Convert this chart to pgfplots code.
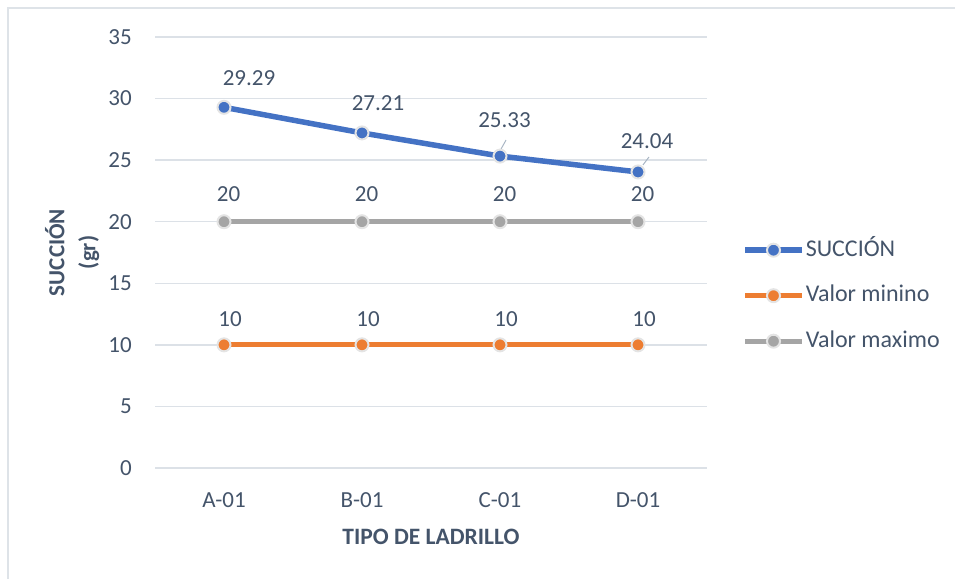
\documentclass[border=0pt]{standalone}
\usepackage{fontspec}
\setmainfont{Carlito}
\usepackage{pgfplots}
\usepackage{pgfplotstable}
\pgfplotsset{compat=1.18}
\definecolor{cblue}{HTML}{4472C4}
\definecolor{corange}{HTML}{ED7D31}
\definecolor{cgray}{HTML}{A5A5A5}
\definecolor{ctext}{HTML}{44546A}
\definecolor{cgrid}{HTML}{DCE1E7}
\definecolor{cborder}{HTML}{DEE3E8}
\definecolor{cmarkb}{HTML}{E4E4E4}
\definecolor{clead}{HTML}{A9B6C4}

\pgfplotstableread{
x y dx dy
0 29.29 25 21
1 27.21 16 21
2 25.33 4.5 27
3 24.04 9 22
}\succion
\pgfplotstableread{
x y dx dy
0 10 6 17
1 10 6 17
2 10 6 17
3 10 6 17
}\vmin
\pgfplotstableread{
x y dx dy
0 20 4.5 19
1 20 4.5 19
2 20 4.5 19
3 20 4.5 19
}\vmax

\begin{document}
\begin{tikzpicture}[x=1pt,y=1pt]
\path[use as bounding box] (0,0) rectangle (955,579);
\draw[cborder, line width=2pt] (8,0) -- (8,571) -- (955,571);
\begin{axis}[
  at={(155pt,111pt)}, anchor=south west,
  scale only axis, width=552pt, height=431pt,
  xmin=-0.5, xmax=3.5, ymin=0, ymax=35,
  xtick={0,1,2,3}, xticklabels={A-01,B-01,C-01,D-01},
  ytick={0,5,...,35},
  ymajorgrids, grid style={cgrid, line width=1.5pt},
  axis line style={draw=none},
  major tick length=0pt,
  clip=false,
  /pgf/number format/assume math mode=true,
  ticklabel style={font=\fontsize{23}{27}\selectfont, text=ctext},
  yticklabel style={anchor=east, inner sep=0pt, xshift=-23pt},
  xticklabel style={anchor=center, inner sep=0pt, yshift=-32pt},
  xlabel={TIPO DE LADRILLO},
  ylabel={SUCCIÓN\\(gr)},
  every axis x label/.style={at={(axis description cs:0.5,-0.160)}, anchor=center, font=\bfseries\fontsize{23.5}{27}\selectfont, text=ctext},
  every axis y label/.style={at={(axis description cs:-0.150,0.5)}, rotate=90, anchor=center, align=center, font=\bfseries\fontsize{23}{31}\selectfont, text=ctext},
  nodes near coords,
  visualization depends on={\thisrow{dx} \as \dx},
  visualization depends on={\thisrow{dy} \as \dy},
  every node near coord/.append style={anchor=south, inner sep=0pt, xshift=\dx pt, yshift=\dy pt, font=\fontsize{23}{27}\selectfont, text=ctext},
  legend cell align=left,
  legend style={draw=none, fill=none, inner sep=0pt, at={(axis description cs:1.0635,0.529)}, anchor=north west,
    font=\fontsize{24}{28}\selectfont, text=ctext, row sep=25.5pt,
    nodes={inner sep=0pt, text height=16pt, text depth=4pt},
    /tikz/every odd column/.append style={column sep=1pt}},
  legend image code/.code={\draw[mark repeat=2,mark phase=2,#1] plot coordinates {(0pt,0pt) (28.5pt,0pt) (57pt,0pt)};},
]
\addplot[cblue, line width=5.5pt, mark=*, mark size=6.5pt, mark options={fill=cblue, draw=cmarkb, line width=2pt}] table[x=x,y=y] {\succion};
\addlegendentry{SUCCIÓN}
\addplot[corange, line width=5pt, mark=*, mark size=6.5pt, mark options={fill=corange, draw=cmarkb, line width=2pt}] table[x=x,y=y] {\vmin};
\addlegendentry{Valor minino}
\addplot[cgray, line width=5pt, mark=*, mark size=6.5pt, mark options={fill=cgray, draw=cmarkb, line width=2pt}] table[x=x,y=y] {\vmax};
\addlegendentry{Valor maximo}
\draw[clead, line width=1pt] ([shift={(1pt,7pt)}]axis cs:2,25.33) -- ([shift={(6pt,16pt)}]axis cs:2,25.33);
\draw[clead, line width=1pt] ([shift={(5pt,7pt)}]axis cs:3,24.04) -- ([shift={(11pt,15pt)}]axis cs:3,24.04);
\end{axis}
\end{tikzpicture}
\end{document}
